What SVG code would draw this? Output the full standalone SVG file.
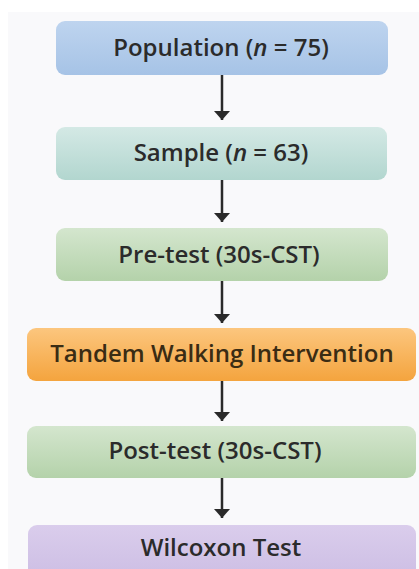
<svg xmlns="http://www.w3.org/2000/svg" width="419" height="569" viewBox="0 0 419 569">
<defs>
<linearGradient id="gBlue" x1="0" y1="0" x2="0" y2="1"><stop offset="0" stop-color="#bed4ef"/><stop offset="1" stop-color="#a6c3e6"/></linearGradient>
<linearGradient id="gTeal" x1="0" y1="0" x2="0" y2="1"><stop offset="0" stop-color="#d4e9e5"/><stop offset="1" stop-color="#b2d6cf"/></linearGradient>
<linearGradient id="gGreen" x1="0" y1="0" x2="0" y2="1"><stop offset="0" stop-color="#d4e6ce"/><stop offset="1" stop-color="#b4d2aa"/></linearGradient>
<linearGradient id="gOrange" x1="0" y1="0" x2="0" y2="1"><stop offset="0" stop-color="#fcc67e"/><stop offset="1" stop-color="#f4a43e"/></linearGradient>
<linearGradient id="gPurple" x1="0" y1="0" x2="0" y2="1"><stop offset="0" stop-color="#dacdec"/><stop offset="1" stop-color="#cbbce3"/></linearGradient>
<marker id="ah" viewBox="0 0 9 16" refX="9" refY="8" markerWidth="9" markerHeight="16" markerUnits="userSpaceOnUse" orient="auto"><path d="M0,0 L9,8 L0,16 Z" fill="#2a2a2a"/></marker>
</defs>
<style>
.lbl{font-family:"Open Sans","Noto Sans","DejaVu Sans",sans-serif;font-weight:600;font-size:24px;fill:#2b2b2b;text-anchor:middle}
.dark{fill:#3a2c14}
.con{stroke:#2a2a2a;stroke-width:2.5;fill:none}
</style>
<rect x="0" y="0" width="419" height="569" fill="#ffffff"/>
<rect x="8" y="12" width="411" height="557" fill="#f9f9fb"/>
<g id="connectors">
<line class="con" x1="222" y1="75" x2="222" y2="120" marker-end="url(#ah)"/>
<line class="con" x1="222" y1="180" x2="222" y2="222" marker-end="url(#ah)"/>
<line class="con" x1="222" y1="281" x2="222" y2="323" marker-end="url(#ah)"/>
<line class="con" x1="222" y1="381" x2="222" y2="421" marker-end="url(#ah)"/>
<line class="con" x1="222" y1="478" x2="222" y2="518" marker-end="url(#ah)"/>
</g>
<g id="population">
<rect x="56" y="21" width="332" height="54" rx="9" fill="url(#gBlue)"/>
<text class="lbl" x="221" y="56">Population (<tspan font-style="italic">n</tspan> = 75)</text>
</g>
<g id="sample">
<rect x="56" y="127" width="331" height="53" rx="9" fill="url(#gTeal)"/>
<text class="lbl" x="221" y="161">Sample (<tspan font-style="italic">n</tspan> = 63)</text>
</g>
<g id="pretest">
<rect x="56" y="228" width="332" height="53" rx="9" fill="url(#gGreen)"/>
<text class="lbl" x="219" y="263">Pre-test (30s-CST)</text>
</g>
<g id="intervention">
<rect x="27" y="328" width="389" height="53" rx="9" fill="url(#gOrange)"/>
<text class="lbl dark" x="222" y="362">Tandem Walking Intervention</text>
</g>
<g id="posttest">
<rect x="27" y="426" width="389" height="52" rx="9" fill="url(#gGreen)"/>
<text class="lbl" x="215" y="459">Post-test (30s-CST)</text>
</g>
<g id="wilcoxon">
<rect x="28" y="525" width="388" height="60" rx="9" fill="url(#gPurple)"/>
<text class="lbl" x="221" y="556">Wilcoxon Test</text>
</g>
</svg>
